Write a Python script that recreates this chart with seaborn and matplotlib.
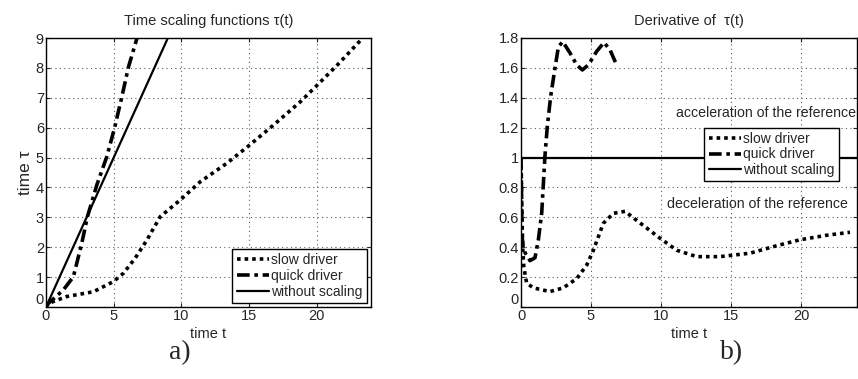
import matplotlib
matplotlib.use("Agg")
import matplotlib.pyplot as plt
import seaborn as sns
import pandas as pd
from matplotlib.ticker import FormatStrFormatter

# ---- data: panel a) time scaling tau(t)
slow_t = [0, 0.17, 1.53, 3.5, 4.98, 5.72, 6.58, 7.45, 8.43, 9.91, 11.39, 13.36, 15.04, 16.81, 18.79, 20.02, 21.5, 23.35]
slow_tau = [0, 0.12, 0.35, 0.51, 0.85, 1.13, 1.63, 2.24, 3.02, 3.58, 4.19, 4.81, 5.42, 6.09, 6.87, 7.42, 8.09, 8.98]
quick_t = [0, 0.17, 1.28, 2.02, 2.64, 3.06, 3.75, 4.49, 5.05, 5.6, 6.09, 6.71]
quick_tau = [0, 0.12, 0.57, 1.01, 2.13, 3.02, 4.08, 5.03, 5.97, 7.03, 8.03, 8.98]
noscale_t = [0, 9]
noscale_tau = [0, 9]

# ---- data: panel b) derivative of tau(t)
dslow_t = [0, 0.05, 0.12, 0.2, 0.4, 0.88, 2.07, 3.02, 3.98, 4.69, 5.17, 5.88, 6.6, 7.43, 8.26, 9.93, 11.12, 12.55, 14.21, 16.36, 18.26, 19.93, 21.83, 23.5]
dslow_v = [1.0, 0.7, 0.4, 0.27, 0.16, 0.128, 0.103, 0.128, 0.19, 0.28, 0.38, 0.56, 0.627, 0.64, 0.58, 0.46, 0.38, 0.337, 0.337, 0.36, 0.41, 0.45, 0.48, 0.50]
dquick_t = [0, 0.04, 0.07, 0.15, 0.31, 0.64, 1.0, 1.24, 1.48, 1.71, 1.88, 2.12, 2.43, 2.67, 2.98, 3.5, 3.98, 4.38, 4.81, 5.4, 5.93, 6.36, 6.83]
dquick_v = [1.0, 0.75, 0.49, 0.4, 0.36, 0.31, 0.33, 0.45, 0.63, 1.01, 1.21, 1.41, 1.60, 1.74, 1.776, 1.70, 1.62, 1.586, 1.62, 1.71, 1.77, 1.72, 1.62]
dnoscale_t = [0, 24]
dnoscale_v = [1, 1]

labels = ["slow driver", "quick driver", "without scaling"]

sns.set_style("ticks")
plt.rcParams['font.family'] = ['Arial', 'Liberation Sans', 'DejaVu Sans']
plt.rcParams['font.size'] = 10

fig = plt.figure(figsize=(8.58, 3.79), dpi=100)
axA = fig.add_axes([46/858, 1-307/379, 325/858, 269/379])
axB = fig.add_axes([521/858, 1-307/379, 336/858, 269/379])

slow_style = dict(color="black", linewidth=2.6, linestyle=(0, (1, 1.1)), dash_capstyle="butt")
quick_style = dict(color="black", linewidth=2.6, linestyle=(0, (3.5, 1.3, 1, 1.3)), dash_capstyle="butt")
noscale_style = dict(color="black", linewidth=1.6, linestyle="-")

def draw(ax, xs, ys, style, label):
    df = pd.DataFrame({"x": xs, "y": ys})
    sns.lineplot(data=df, x="x", y="y", ax=ax, sort=False, estimator=None, label=label, **style)

draw(axA, slow_t, slow_tau, slow_style, labels[0])
draw(axA, quick_t, quick_tau, quick_style, labels[1])
draw(axA, noscale_t, noscale_tau, noscale_style, labels[2])

draw(axB, dslow_t, dslow_v, slow_style, labels[0])
draw(axB, dquick_t, dquick_v, quick_style, labels[1])
draw(axB, dnoscale_t, dnoscale_v, noscale_style, labels[2])

for ax in (axA, axB):
    ax.set_xlim(0, 24)
    ax.set_xticks([0, 5, 10, 15, 20])
    ax.tick_params(direction="in", length=3, width=0.8, labelsize=10.5, pad=1.5, top=True, right=True)
    ax.grid(True, color="#4a6a4a", linestyle=(0, (1, 3)), linewidth=0.8)
    for s in ax.spines.values():
        s.set_linewidth(1.0)
        s.set_color("black")
    ax.set_xlabel("time t", fontsize=10.5, labelpad=2.5)

axA.set_ylim(0, 9)
axA.set_yticks(range(0, 10))
axA.set_ylabel("time τ", fontsize=12.5, labelpad=2)
axA.set_title("Time scaling functions τ(t)", fontsize=10.5, pad=9)

axB.set_ylim(0, 1.8)
axB.set_yticks([0, 0.2, 0.4, 0.6, 0.8, 1.0, 1.2, 1.4, 1.6, 1.8])
axB.yaxis.set_major_formatter(FormatStrFormatter("%g"))
axB.set_ylabel("")
axB.set_title("Derivative of  τ(t)", fontsize=10.5, pad=9)

# lift the y "0" label so it sits just above the x "0" label
for ax in (axA, axB):
    ax.get_yticklabels()[0].set_verticalalignment("bottom")

legA = axA.legend(loc="lower right", fontsize=10, frameon=True, fancybox=False,
                  edgecolor="black", framealpha=1, handlelength=2.3, handletextpad=0.2,
                  borderpad=0.3, labelspacing=0.12, borderaxespad=0.3)
legA.get_frame().set_linewidth(1.0)
legB = axB.legend(loc="upper left", bbox_to_anchor=(0.546, 0.667), fontsize=10, frameon=True,
                  fancybox=False, edgecolor="black", framealpha=1, handlelength=2.3,
                  handletextpad=0.2, borderpad=0.3, labelspacing=0.12, borderaxespad=0.0)
legB.get_frame().set_linewidth(1.0)

axB.text(11.07, 1.30, "acceleration of the reference", fontsize=10.2, va="center", ha="left", clip_on=False)
axB.text(10.4, 0.69, "deceleration of the reference", fontsize=10.2, va="center", ha="left", clip_on=False)

fig.text(180/858, 1-353/379, "a)", fontsize=20, family=["Liberation Serif", "DejaVu Serif"], ha="center", va="center")
fig.text(732/858, 1-353/379, "b)", fontsize=20, family=["Liberation Serif", "DejaVu Serif"], ha="center", va="center")

fig.savefig("out.png", dpi=100)
